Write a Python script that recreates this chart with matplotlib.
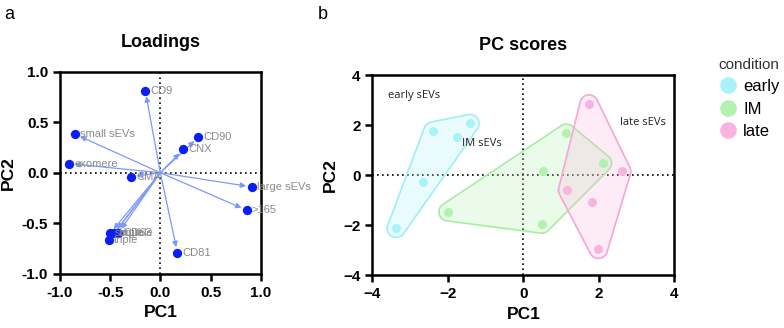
import numpy as np
import matplotlib.pyplot as plt
from matplotlib.lines import Line2D

plt.rcParams['font.family'] = ['Liberation Sans', 'DejaVu Sans']

# loadings (panel a)
load_names = ['CD9', 'small sEVs', 'exomere', 'CMA', 'CD90', 'CNX', 'large sEVs',
              '>165', 'CD81', 'single', 'double', 'CD63', 'triple']
load_pc1 = [-0.15, -0.85, -0.91, -0.29, 0.38, 0.23, 0.91, 0.86, 0.17, -0.50, -0.46, -0.42, -0.51]
load_pc2 = [0.81, 0.38, 0.09, -0.04, 0.35, 0.23, -0.14, -0.37, -0.79, -0.60, -0.60, -0.60, -0.67]

# scores (panel b)
conditions = ['early', 'IM', 'late']
score_pc1 = {
    'early': [-2.40, -1.41, -1.75, -2.65, -3.37],
    'IM': [1.14, 2.10, 0.53, -2.00, 0.49],
    'late': [1.74, 2.61, 1.17, 1.81, 1.99],
}
score_pc2 = {
    'early': [1.77, 2.07, 1.52, -0.29, -2.13],
    'IM': [1.68, 0.48, 0.16, -1.47, -1.96],
    'late': [2.85, 0.15, -0.60, -1.08, -2.97],
}
group_labels = ['early sEVs', 'IM sEVs', 'late sEVs']
group_label_x = [-3.58, -1.63, 2.55]
group_label_y = [3.17, 1.28, 2.09]

point_colors = {'early': '#a8f3f9', 'IM': '#b3f1ae', 'late': '#f8b3df'}
edge_colors = {'early': '#9eeff6', 'IM': '#a6eea0', 'late': '#f5a6d8'}


def convex_hull(pts):
    pts = sorted(map(tuple, pts))
    def cross(o, a, b):
        return (a[0] - o[0]) * (b[1] - o[1]) - (a[1] - o[1]) * (b[0] - o[0])
    lower, upper = [], []
    for p in pts:
        while len(lower) >= 2 and cross(lower[-2], lower[-1], p) <= 0:
            lower.pop()
        lower.append(p)
    for p in reversed(pts):
        while len(upper) >= 2 and cross(upper[-2], upper[-1], p) <= 0:
            upper.pop()
        upper.append(p)
    return np.array(lower[:-1] + upper[:-1])


def rounded_hull(x, y, sx, sy, r=9):
    # hull of small circles around each point, in pixel units so corners look round
    ang = np.linspace(0, 2 * np.pi, 40, endpoint=False)
    pts = []
    for px, py in zip(x, y):
        for a in ang:
            pts.append((px * sx + r * np.cos(a), py * sy + r * np.sin(a)))
    h = convex_hull(pts)
    h = np.vstack([h, h[:1]])
    return h[:, 0] / sx, h[:, 1] / sy


fig = plt.figure(figsize=(7.84, 3.28), dpi=100)

# ---- panel a
ax1 = fig.add_axes([0.0765, 0.165, 0.256, 0.617])
ax1.axhline(0, color='black', linestyle=(0, (1, 2)), linewidth=1.2, zorder=1)
ax1.axvline(0, color='black', linestyle=(0, (1, 2)), linewidth=1.2, zorder=1)
for x, y, name in zip(load_pc1, load_pc2, load_names):
    ax1.annotate('', xy=(x, y), xytext=(0, 0),
                 arrowprops=dict(arrowstyle='-|>', color='#7d98fb', lw=0.9,
                                 mutation_scale=8, shrinkA=0, shrinkB=4), zorder=2)
    ax1.text(x + 0.05, y, name, color='#8a8a8a', fontsize=8, va='center', ha='left',
             clip_on=False, zorder=4)
ax1.scatter(load_pc1, load_pc2, s=45, color='#0b1ff5', zorder=3, linewidths=0)
ax1.set_xlim(-1, 1)
ax1.set_ylim(-1, 1)
ax1.set_xticks([-1, -0.5, 0, 0.5, 1])
ax1.set_yticks([-1, -0.5, 0, 0.5, 1])
ax1.set_xticklabels(['-1.0', '-0.5', '0.0', '0.5', '1.0'])
ax1.set_yticklabels(['-1.0', '-0.5', '0.0', '0.5', '1.0'])
ax1.set_xlabel('PC1', fontsize=12.5, fontweight='bold')
ax1.set_ylabel('PC2', fontsize=12.5, fontweight='bold')
ax1.set_title('Loadings', fontsize=13, fontweight='bold', pad=18)

# ---- panel b
ax2 = fig.add_axes([0.475, 0.161, 0.385, 0.61])
ax2.axhline(0, color='black', linestyle=(0, (1, 2)), linewidth=1.2, zorder=1)
ax2.axvline(0, color='black', linestyle=(0, (1, 2)), linewidth=1.2, zorder=1)
for cond in conditions:
    hx, hy = rounded_hull(score_pc1[cond], score_pc2[cond], 37.7, 25.0)
    ax2.fill(hx, hy, facecolor=point_colors[cond], alpha=0.25, edgecolor='none', zorder=2)
    ax2.plot(hx, hy, color=edge_colors[cond], lw=1.2, zorder=2)
    ax2.scatter(score_pc1[cond], score_pc2[cond], s=42, color=point_colors[cond],
                linewidths=0, zorder=3)
for lx, ly, lab in zip(group_label_x, group_label_y, group_labels):
    ax2.text(lx, ly, lab, fontsize=8, va='center', ha='left',
             family=['Open Sans', 'DejaVu Sans'], color='#222222', zorder=4)
ax2.set_xlim(-4, 4)
ax2.set_ylim(-4, 4)
ax2.set_xticks([-4, -2, 0, 2, 4])
ax2.set_yticks([-4, -2, 0, 2, 4])
ax2.set_xlabel('PC1', fontsize=12.5, fontweight='bold')
ax2.set_ylabel('PC2', fontsize=12.5, fontweight='bold')
ax2.set_title('PC scores', fontsize=13, fontweight='bold', pad=18)

for ax in (ax1, ax2):
    for s in ax.spines.values():
        s.set_linewidth(1.8)
    ax.tick_params(width=1.8, length=5, labelsize=11)
    for lab in ax.get_xticklabels() + ax.get_yticklabels():
        lab.set_fontweight('bold')

handles = [Line2D([], [], marker='o', linestyle='none', markersize=12,
                  markerfacecolor=point_colors[c], markeredgecolor='none') for c in conditions]
leg = fig.legend(handles, conditions, title='condition', loc='upper left',
                 bbox_to_anchor=(0.897, 0.87), frameon=False, fontsize=12, title_fontsize=11,
                 handletextpad=0.3, labelspacing=0.45, alignment='left', handlelength=1.2)
leg.get_title().set_color('#333333')

fig.text(0.006, 0.955, 'a', fontsize=13, va='center')
fig.text(0.405, 0.955, 'b', fontsize=13, va='center')

fig.savefig('out.png', dpi=100)
